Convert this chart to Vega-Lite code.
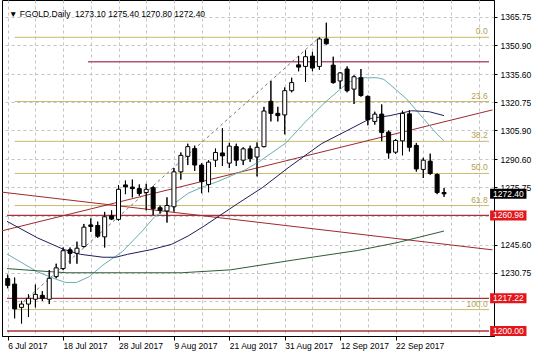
{
  "$schema": "https://vega.github.io/schema/vega-lite/v6.json",
  "width": 492,
  "height": 336,
  "autosize": {"type": "none"},
  "padding": {"left": 2, "top": 0, "right": 42, "bottom": 17},
  "background": "white",
  "config": {
    "view": {"stroke": "black", "strokeWidth": 1},
    "axis": {"labelFont": "Liberation Sans", "labelFontSize": 8.5, "labelColor": "black", "title": null, "labelOverlap": false}
  },
  "resolve": {"axis": {"x": "independent", "y": "independent"}},
  "datasets": {
    "candles": [
      {"i":0,"d":"6 Jul","o":1227.68,"h":1229.73,"l":1222.56,"c":1224.09},
      {"i":1,"d":"7 Jul","o":1224.76,"h":1228.19,"l":1206.69,"c":1211.65},
      {"i":2,"d":"10 Jul","o":1212.47,"h":1215.90,"l":1203.97,"c":1214.21},
      {"i":3,"d":"11 Jul","o":1214.21,"h":1219.33,"l":1207.35,"c":1217.28},
      {"i":4,"d":"12 Jul","o":1216.77,"h":1224.45,"l":1212.47,"c":1219.33},
      {"i":5,"d":"13 Jul","o":1218.82,"h":1221.02,"l":1215.90,"c":1217.28},
      {"i":6,"d":"14 Jul","o":1216.77,"h":1232.13,"l":1214.21,"c":1227.83},
      {"i":7,"d":"17 Jul","o":1228.70,"h":1235.51,"l":1227.83,"c":1233.31},
      {"i":8,"d":"18 Jul","o":1232.95,"h":1244.06,"l":1232.13,"c":1242.37},
      {"i":9,"d":"19 Jul","o":1242.88,"h":1244.06,"l":1235.51,"c":1240.99},
      {"i":10,"d":"20 Jul","o":1240.99,"h":1247.13,"l":1235.51,"c":1243.70},
      {"i":11,"d":"21 Jul","o":1244.57,"h":1256.50,"l":1244.06,"c":1254.81},
      {"i":12,"d":"24 Jul","o":1255.99,"h":1259.42,"l":1252.25,"c":1255.17},
      {"i":13,"d":"25 Jul","o":1255.68,"h":1257.73,"l":1249.18,"c":1250.05},
      {"i":14,"d":"26 Jul","o":1249.69,"h":1262.85,"l":1244.06,"c":1260.29},
      {"i":15,"d":"27 Jul","o":1260.80,"h":1263.67,"l":1258.55,"c":1259.06},
      {"i":16,"d":"28 Jul","o":1258.91,"h":1276.98,"l":1258.24,"c":1274.78},
      {"i":17,"d":"31 Jul","o":1277.08,"h":1279.38,"l":1272.22,"c":1276.06},
      {"i":18,"d":"1 Aug","o":1275.96,"h":1279.90,"l":1270.53,"c":1275.14},
      {"i":19,"d":"2 Aug","o":1275.14,"h":1277.34,"l":1271.35,"c":1272.58},
      {"i":20,"d":"3 Aug","o":1273.09,"h":1277.69,"l":1263.67,"c":1274.78},
      {"i":21,"d":"4 Aug","o":1275.65,"h":1276.47,"l":1261.11,"c":1264.54},
      {"i":22,"d":"7 Aug","o":1265.05,"h":1266.23,"l":1261.97,"c":1263.67},
      {"i":23,"d":"8 Aug","o":1263.36,"h":1270.53,"l":1257.22,"c":1266.23},
      {"i":24,"d":"9 Aug","o":1265.56,"h":1286.04,"l":1263.00,"c":1283.99},
      {"i":25,"d":"10 Aug","o":1283.99,"h":1294.23,"l":1279.90,"c":1292.70},
      {"i":26,"d":"11 Aug","o":1292.18,"h":1298.84,"l":1287.58,"c":1297.30},
      {"i":27,"d":"14 Aug","o":1296.28,"h":1297.81,"l":1284.50,"c":1287.58},
      {"i":28,"d":"15 Aug","o":1287.58,"h":1288.60,"l":1272.73,"c":1278.87},
      {"i":29,"d":"16 Aug","o":1277.34,"h":1290.14,"l":1273.24,"c":1289.11},
      {"i":30,"d":"17 Aug","o":1290.14,"h":1296.28,"l":1286.55,"c":1294.23},
      {"i":31,"d":"18 Aug","o":1293.97,"h":1307.03,"l":1287.06,"c":1292.44},
      {"i":32,"d":"21 Aug","o":1288.60,"h":1299.35,"l":1286.04,"c":1297.56},
      {"i":33,"d":"22 Aug","o":1297.30,"h":1298.84,"l":1287.06,"c":1290.14},
      {"i":34,"d":"23 Aug","o":1290.14,"h":1296.95,"l":1287.58,"c":1296.13},
      {"i":35,"d":"24 Aug","o":1296.13,"h":1297.81,"l":1289.27,"c":1291.01},
      {"i":36,"d":"25 Aug","o":1291.83,"h":1299.51,"l":1281.59,"c":1296.95},
      {"i":37,"d":"28 Aug","o":1297.30,"h":1318.29,"l":1296.95,"c":1316.09},
      {"i":38,"d":"29 Aug","o":1321.21,"h":1331.96,"l":1310.61,"c":1314.86},
      {"i":39,"d":"30 Aug","o":1314.86,"h":1318.29,"l":1310.61,"c":1313.69},
      {"i":40,"d":"31 Aug","o":1314.05,"h":1328.53,"l":1303.81,"c":1326.84},
      {"i":41,"d":"1 Sep","o":1326.84,"h":1333.65,"l":1325.97,"c":1331.09},
      {"i":42,"d":"4 Sep","o":1340.46,"h":1345.07,"l":1337.08,"c":1339.28},
      {"i":43,"d":"5 Sep","o":1339.64,"h":1348.14,"l":1331.45,"c":1344.76},
      {"i":44,"d":"6 Sep","o":1345.07,"h":1347.32,"l":1337.08,"c":1338.77},
      {"i":45,"d":"7 Sep","o":1339.64,"h":1355.00,"l":1337.90,"c":1354.13},
      {"i":46,"d":"8 Sep","o":1354.13,"h":1362.68,"l":1351.21,"c":1351.57},
      {"i":47,"d":"11 Sep","o":1340.31,"h":1344.76,"l":1330.58,"c":1331.09},
      {"i":48,"d":"12 Sep","o":1331.96,"h":1336.57,"l":1327.76,"c":1336.21},
      {"i":49,"d":"13 Sep","o":1338.26,"h":1339.64,"l":1325.97,"c":1326.84},
      {"i":50,"d":"14 Sep","o":1327.66,"h":1334.93,"l":1319.83,"c":1334.16},
      {"i":51,"d":"15 Sep","o":1333.65,"h":1338.26,"l":1323.67,"c":1324.28},
      {"i":52,"d":"18 Sep","o":1323.82,"h":1324.28,"l":1308.57,"c":1311.49},
      {"i":53,"d":"19 Sep","o":1310.61,"h":1315.73,"l":1308.93,"c":1314.45},
      {"i":54,"d":"20 Sep","o":1314.45,"h":1319.57,"l":1300.12,"c":1304.73},
      {"i":55,"d":"21 Sep","o":1304.98,"h":1305.85,"l":1291.01,"c":1293.97},
      {"i":56,"d":"22 Sep","o":1294.38,"h":1301.25,"l":1293.57,"c":1300.53},
      {"i":57,"d":"25 Sep","o":1300.38,"h":1316.25,"l":1292.70,"c":1314.86},
      {"i":58,"d":"26 Sep","o":1314.61,"h":1316.60,"l":1294.75,"c":1296.95},
      {"i":59,"d":"27 Sep","o":1297.97,"h":1299.25,"l":1284.15,"c":1285.53},
      {"i":60,"d":"28 Sep","o":1285.27,"h":1291.42,"l":1280.77,"c":1290.14},
      {"i":61,"d":"29 Sep","o":1289.63,"h":1293.57,"l":1282.46,"c":1283.12},
      {"i":62,"d":"2 Oct","o":1282.61,"h":1283.32,"l":1272.22,"c":1273.09},
      {"i":63,"d":"3 Oct","o":1273.10,"h":1275.40,"l":1270.80,"c":1272.40}
    ],
    "ma": [
      {"s":"fast","i":-0.1,"p":1240.62},{"s":"fast","i":4.29,"p":1231.25},{"s":"fast","i":7.11,"p":1227.15},{"s":"fast","i":8.39,"p":1225.62},{"s":"fast","i":9.94,"p":1225.62},{"s":"fast","i":11.78,"p":1228.69},{"s":"fast","i":13.76,"p":1234.83},{"s":"fast","i":16.59,"p":1242.0},{"s":"fast","i":19.42,"p":1252.75},{"s":"fast","i":21.26,"p":1260.43},{"s":"fast","i":23.66,"p":1266.22},{"s":"fast","i":26.07,"p":1272.72},{"s":"fast","i":28.35,"p":1276.31},{"s":"fast","i":30.31,"p":1278.87},{"s":"fast","i":34.27,"p":1285.01},{"s":"fast","i":36.39,"p":1289.62},{"s":"fast","i":40.21,"p":1299.35},{"s":"fast","i":43.04,"p":1310.61},{"s":"fast","i":45.87,"p":1320.85},{"s":"fast","i":49.12,"p":1331.09},{"s":"fast","i":50.78,"p":1333.65},{"s":"fast","i":53.36,"p":1333.65},{"s":"fast","i":54.31,"p":1332.78},{"s":"fast","i":55.21,"p":1330.07},{"s":"fast","i":57.61,"p":1322.39},{"s":"fast","i":60.01,"p":1312.15},{"s":"fast","i":61.85,"p":1304.47},{"s":"fast","i":62.99,"p":1300.37},
      {"s":"mid","i":-0.1,"p":1257.87},{"s":"mid","i":4.29,"p":1249.17},{"s":"mid","i":8.1,"p":1243.03},{"s":"mid","i":10.51,"p":1240.47},{"s":"mid","i":13.76,"p":1238.93},{"s":"mid","i":15.6,"p":1238.93},{"s":"mid","i":17.3,"p":1240.47},{"s":"mid","i":20.84,"p":1243.03},{"s":"mid","i":23.66,"p":1245.74},{"s":"mid","i":26.07,"p":1250.19},{"s":"mid","i":28.33,"p":1255.31},{"s":"mid","i":33.14,"p":1267.09},{"s":"mid","i":36.82,"p":1275.79},{"s":"mid","i":40.64,"p":1286.55},{"s":"mid","i":45.3,"p":1298.83},{"s":"mid","i":49.12,"p":1306.0},{"s":"mid","i":52.37,"p":1312.15},{"s":"mid","i":55.21,"p":1313.68},{"s":"mid","i":58.32,"p":1316.24},{"s":"mid","i":60.86,"p":1315.73},{"s":"mid","i":62.99,"p":1313.68},
      {"s":"slow","i":-0.1,"p":1232.94},{"s":"slow","i":4.29,"p":1231.76},{"s":"slow","i":8.53,"p":1230.74},{"s":"slow","i":16.59,"p":1230.74},{"s":"slow","i":25.08,"p":1230.74},{"s":"slow","i":32.15,"p":1232.27},{"s":"slow","i":42.05,"p":1237.9},{"s":"slow","i":50.55,"p":1242.51},{"s":"slow","i":56.2,"p":1246.61},{"s":"slow","i":62.99,"p":1252.75}
    ],
    "fib": [
      {"p":1355.0,"t":"0.0"},{"p":1321.1,"t":"23.6"},{"p":1300.1,"t":"38.2"},{"p":1283.15,"t":"50.0"},{"p":1266.2,"t":"61.8"},{"p":1211.3,"t":"100.0"}
    ],
    "levels": [{"p":1260.98},{"p":1217.22},{"p":1200.0}],
    "upper": [{"p":1342.1,"i1":11.6,"i2":69.49}],
    "trend": [
      {"i1":-1,"p1":1252.72,"i2":70,"p2":1316.7},
      {"i1":-1,"p1":1273.36,"i2":70,"p2":1242.82}
    ],
    "fibbase": [{"i1":1,"p1":1211.3,"i2":45,"p2":1355.0}],
    "tags": [
      {"p":1272.40,"t":"1272.40","k":"cur"},
      {"p":1260.98,"t":"1260.98","k":"lvl"},
      {"p":1217.22,"t":"1217.22","k":"lvl"},
      {"p":1200.00,"t":"1200.00","k":"lvl"}
    ],
    "head": [{"t":"▼ FGOLD.Daily\u00a0\u00a01273.10 1275.40 1270.80 1272.40","i":0.2,"p":1365.75}]
  },
  "layer": [
    {
      "data": {"name": "candles"},
      "mark": {"type": "rule", "color": "black", "strokeWidth": 1, "clip": true},
      "encoding": {
        "x": {"field": "i", "type": "quantitative", "scale": {"domain": [-0.1, 69.49], "nice": false, "zero": false},
          "axis": {"orient": "bottom", "title": null, "zindex": 0, "values": [0,4,8,12,16,20,24,28,32,36,40,44,48,52,56,60,64,68],
            "labelExpr": "(datum.value % 8 == 0 && datum.value <= 56) ? ['6 Jul 2017','18 Jul 2017','28 Jul 2017','9 Aug 2017','21 Aug 2017','31 Aug 2017','12 Sep 2017','22 Sep 2017'][datum.value / 8] : ''",
            "labelAlign": "left", "labelBaseline": "top", "labelPadding": 1, "labelDx": -1, "labelOverlap": false, "labelFlush": false, "labelBound": false,
            "tickSize": 4, "tickColor": {"condition": {"test": "datum.value % 8 == 0 && datum.value <= 56", "value": "black"}, "value": "transparent"},
            "grid": true, "gridColor": "#c4c4c4", "gridDash": [3, 3], "gridWidth": 1, "domainColor": "black"}},
        "y": {"field": "l", "type": "quantitative", "scale": {"domain": [1200, 1372.05], "nice": false, "zero": false},
          "axis": {"orient": "right", "title": null, "zindex": 0, "values": [1215.9, 1230.75, 1245.6, 1260.9, 1275.75, 1290.6, 1305.9, 1320.75, 1335.6, 1350.9, 1365.75],
            "labelExpr": "(datum.value == 1260.9 || datum.value == 1215.9) ? '' : format(datum.value, '.2f')",
            "labelOverlap": false, "labelFlush": false, "labelBound": false,
            "tickSize": 3, "tickColor": "black", "labelPadding": 3, "labelAlign": "left", "labelBaseline": "middle",
            "grid": true, "gridColor": "#c4c4c4", "gridDash": [3, 3], "gridWidth": 1, "domainColor": "black"}},
        "y2": {"field": "h"}
      }
    },
    {
      "data": {"name": "fib"},
      "mark": {"type": "rule", "color": "#c9ba6a", "strokeWidth": 1, "clip": true},
      "encoding": {
        "x": {"datum": 1, "type": "quantitative", "axis": null},
        "x2": {"datum": 69.49},
        "y": {"field": "p", "type": "quantitative", "axis": null}
      }
    },
    {
      "data": {"name": "levels"},
      "mark": {"type": "rule", "color": "#a8323a", "strokeWidth": 1.3, "clip": true},
      "encoding": {
        "x": {"datum": -0.1, "type": "quantitative", "axis": null},
        "x2": {"datum": 69.49},
        "y": {"field": "p", "type": "quantitative", "axis": null}
      }
    },
    {
      "data": {"name": "upper"},
      "mark": {"type": "rule", "color": "#b0566e", "strokeWidth": 1.3, "clip": true},
      "encoding": {
        "x": {"field": "i1", "type": "quantitative", "axis": null},
        "x2": {"field": "i2"},
        "y": {"field": "p", "type": "quantitative", "axis": null}
      }
    },
    {
      "data": {"name": "trend"},
      "mark": {"type": "rule", "color": "#a0282d", "strokeWidth": 1, "clip": true},
      "encoding": {
        "x": {"field": "i1", "type": "quantitative", "axis": null},
        "x2": {"field": "i2"},
        "y": {"field": "p1", "type": "quantitative", "axis": null},
        "y2": {"field": "p2"}
      }
    },
    {
      "data": {"name": "fibbase"},
      "mark": {"type": "rule", "color": "#7a7a7a", "strokeWidth": 1, "strokeDash": [3, 3], "clip": true},
      "encoding": {
        "x": {"field": "i1", "type": "quantitative", "axis": null},
        "x2": {"field": "i2"},
        "y": {"field": "p1", "type": "quantitative", "axis": null},
        "y2": {"field": "p2"}
      }
    },
    {
      "data": {"name": "ma"},
      "mark": {"type": "line", "strokeWidth": 1, "clip": true},
      "encoding": {
        "x": {"field": "i", "type": "quantitative", "axis": null},
        "y": {"field": "p", "type": "quantitative", "axis": null},
        "color": {"field": "s", "type": "nominal", "scale": {"domain": ["fast", "mid", "slow"], "range": ["#6aadb5", "#1e1e5a", "#2e5c3a"]}, "legend": null}
      }
    },
    {
      "data": {"name": "candles"},
      "mark": {"type": "rule", "color": "black", "strokeWidth": 1, "clip": true},
      "encoding": {
        "x": {"field": "i", "type": "quantitative", "axis": null},
        "y": {"field": "l", "type": "quantitative", "axis": null},
        "y2": {"field": "h"}
      }
    },
    {
      "data": {"name": "candles"},
      "mark": {"type": "bar", "size": 4, "stroke": "black", "strokeWidth": 1, "clip": true, "orient": "vertical"},
      "encoding": {
        "x": {"field": "i", "type": "quantitative", "axis": null},
        "y": {"field": "o", "type": "quantitative", "axis": null},
        "y2": {"field": "c"},
        "fill": {"condition": {"test": "datum.c >= datum.o", "value": "white"}, "value": "black"}
      }
    },
    {
      "data": {"name": "fib"},
      "mark": {"type": "text", "align": "right", "baseline": "bottom", "dy": -1, "color": "#b3a255", "font": "Liberation Sans", "fontSize": 8.5},
      "encoding": {
        "x": {"datum": 69.3, "type": "quantitative", "axis": null},
        "y": {"field": "p", "type": "quantitative", "axis": null},
        "text": {"field": "t"}
      }
    },
    {
      "data": {"name": "head"},
      "mark": {"type": "text", "align": "left", "baseline": "alphabetic", "color": "black", "font": "Liberation Sans", "fontSize": 8.5},
      "encoding": {
        "x": {"field": "i", "type": "quantitative", "axis": null},
        "y": {"field": "p", "type": "quantitative", "axis": null},
        "text": {"field": "t"}
      }
    },
    {
      "data": {"name": "tags"},
      "mark": {"type": "bar", "size": 10, "orient": "horizontal", "clip": false, "zindex": 2},
      "encoding": {
        "x": {"datum": 69.65, "type": "quantitative", "axis": null},
        "x2": {"datum": 74.9},
        "y": {"field": "p", "type": "quantitative", "axis": null},
        "fill": {"condition": {"test": "datum.k == 'cur'", "value": "black"}, "value": "#e3161c"}
      }
    },
    {
      "data": {"name": "tags"},
      "mark": {"type": "text", "align": "center", "baseline": "middle", "color": "white", "font": "Liberation Sans", "fontSize": 8.5, "clip": false, "zindex": 3},
      "encoding": {
        "x": {"datum": 72.3, "type": "quantitative", "axis": null},
        "y": {"field": "p", "type": "quantitative", "axis": null},
        "text": {"field": "t"}
      }
    }
  ]
}
